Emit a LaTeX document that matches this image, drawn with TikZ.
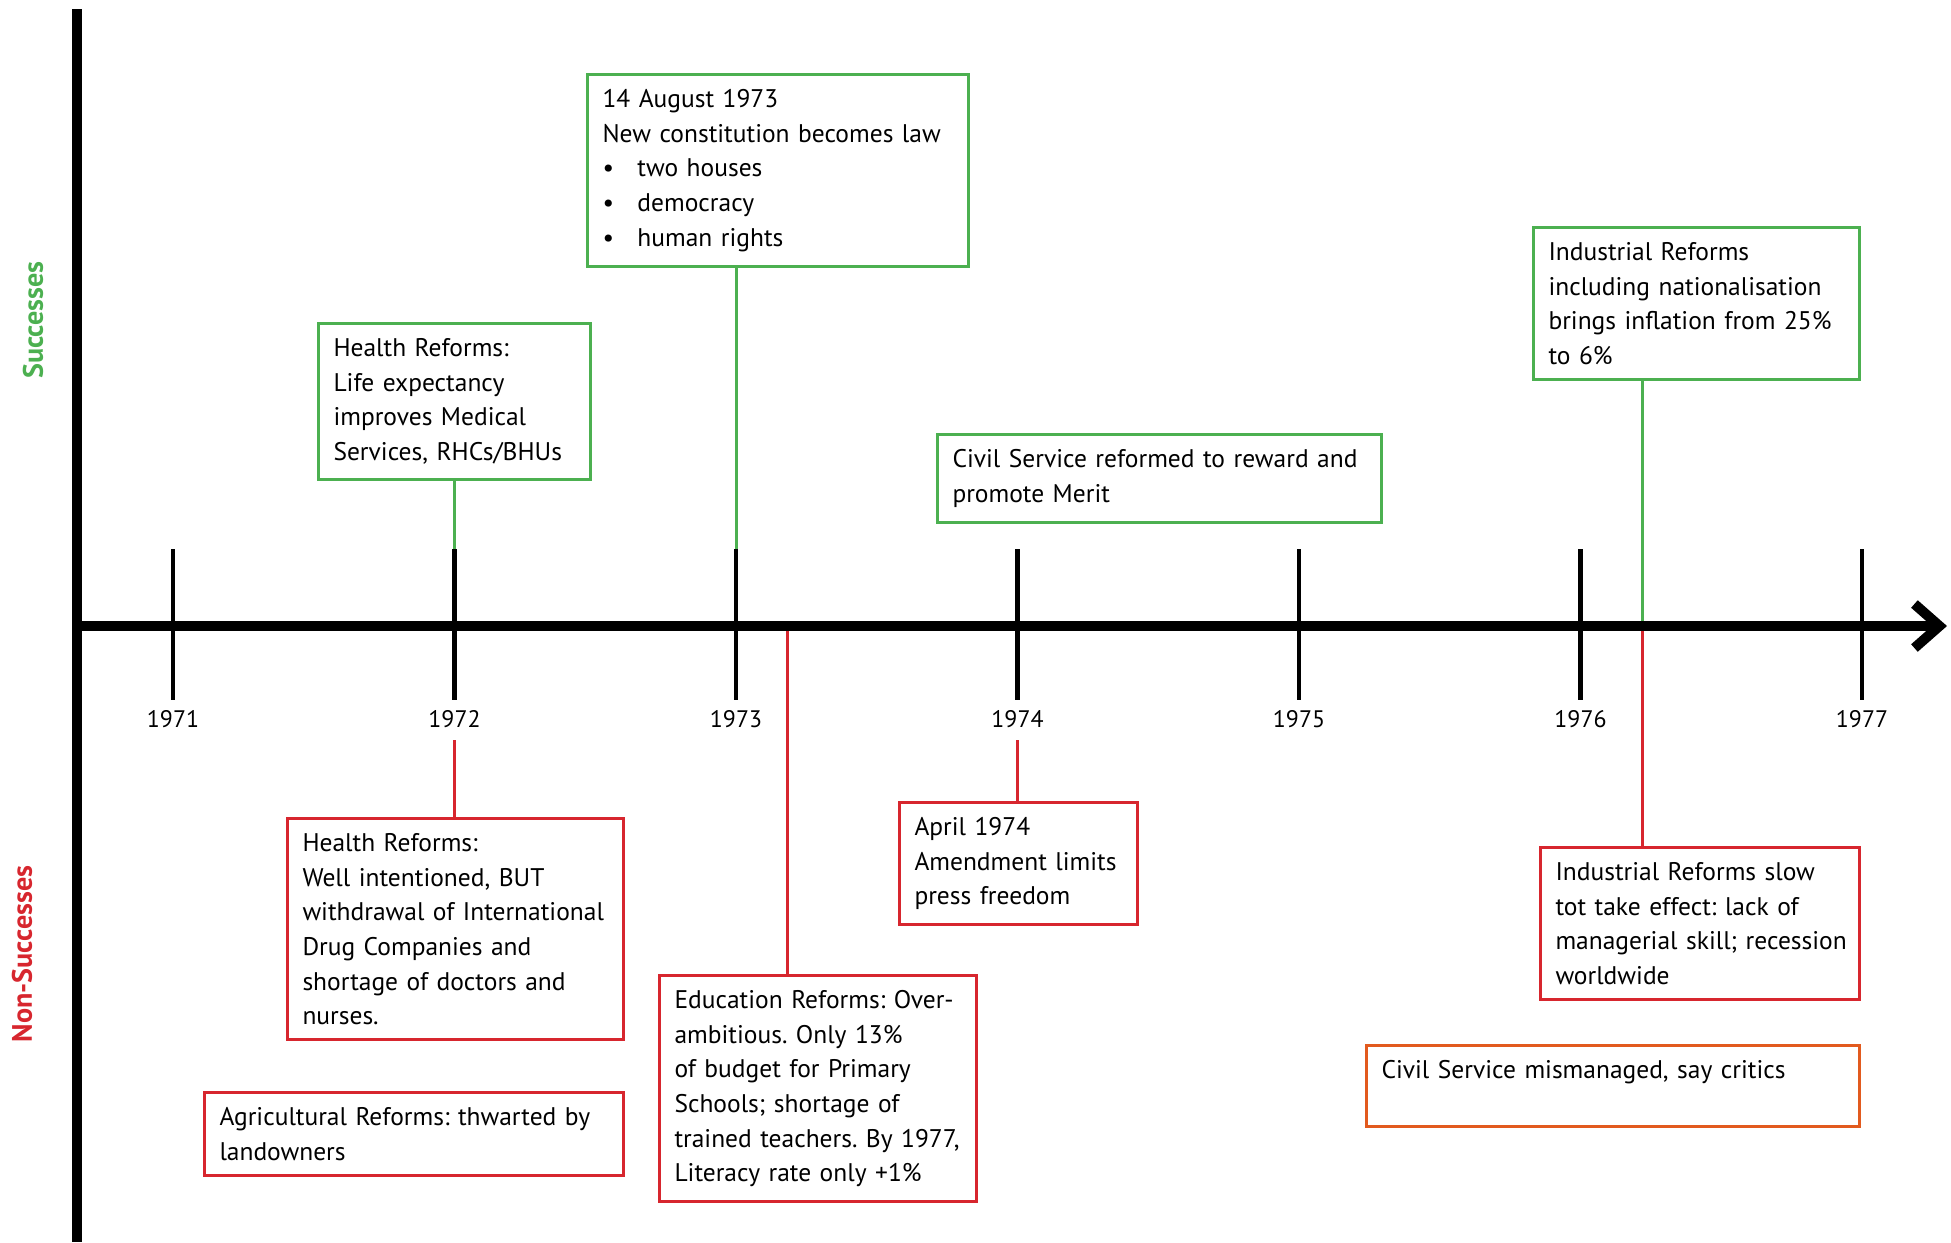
\documentclass[tikz,border=0pt]{standalone}
\usepackage{fontspec}
\setmainfont{PT Sans}
\usetikzlibrary{positioning, arrows.meta}
\definecolor{goodgreen}{RGB}{76,176,80}
\definecolor{badred}{RGB}{215,38,46}
\definecolor{critorange}{RGB}{226,90,30}
\newcommand*{\boxfont}{\fontsize{7.25pt}{9.85pt}\selectfont\frenchspacing}
\newcommand*{\yearfont}{\fontsize{6.8pt}{8pt}\selectfont}
\newcommand*{\itm}{\makebox[3.5mm][l]{\textbullet}}

\begin{document}
\begin{tikzpicture}
    [
        x=0.1mm, y=-0.1mm,
        box/.style={draw, line width=0.3mm, anchor=north west, align=left, inner sep=1.5mm, font=\boxfont},
        green_box/.style={box, draw=goodgreen},
        red_box/.style={box, draw=badred},
        orange_box/.style={box, draw=critorange},
        green_link/.style={line width=0.3mm, color=goodgreen},
        red_link/.style={line width=0.3mm, color=badred},
        year_tick/.style={line width=0.45mm},
        side_label/.style={rotate=90, font=\fontsize{8pt}{9pt}\selectfont\bfseries},
    ]
        \useasboundingbox (0,0) rectangle (1951,1242) ;
        \foreach \yr [count=\i from 0] in {1971,...,1977} {
            \coordinate (top\yr) at (173+281.5*\i,549) ;
            \coordinate (bot\yr) at (173+281.5*\i,700) ;
            \draw[year_tick] (top\yr) -- (bot\yr) ;
            \node[font=\yearfont] (lbl\yr) at (173+281.5*\i,719) {\yr} ;
        }
        \coordinate (edu_mark) at (787,626) ;
        \coordinate (ind_mark) at (1642,626) ;

        \node[side_label, text=goodgreen] (good_lbl) at (33,320) {Successes} ;
        \node[side_label, text=badred] (bad_lbl) at (22,954) {Non-Successes} ;

        \node[green_box, text width=24.2mm] (hlth_good) at (317,322) {Health Reforms:\\Life expectancy\\improves Medical\\Services, RHCs/BHUs} ;
        \node[green_box, text width=35.1mm] (const73) at (586,73) {14 August 1973\\New constitution becomes law\\\itm two houses\\\itm democracy\\\itm human rights} ;
        \node[green_box, text width=41.4mm] (civil_good) at (936,433) {Civil Service reformed to reward and\\promote Merit} ;
        \node[green_box, text width=29.6mm] (ind_good) at (1532,226) {Industrial Reforms\\including nationalisation\\brings inflation from 25\%\\to 6\%} ;

        \node[red_box, text width=30.6mm] (hlth_bad) at (286,817) {Health Reforms:\\Well intentioned, BUT\\withdrawal of International\\Drug Companies and\\shortage of doctors and\\nurses.} ;
        \node[red_box, text width=38.9mm] (agri_bad) at (203,1091) {Agricultural Reforms: thwarted by\\landowners} ;
        \node[red_box, text width=28.7mm] (edu_bad) at (658,974) {Education Reforms: Over-\\ambitious. Only 13\%\\of budget for Primary\\Schools; shortage of\\\mbox{trained teachers. By 1977,}\\Literacy rate only +1\%} ;
        \node[red_box, text width=20.8mm] (april74) at (898,801) {April 1974\\Amendment limits\\press freedom} ;
        \node[red_box, text width=28.9mm] (ind_bad) at (1539,846) {Industrial Reforms slow\\tot take effect: lack of\\\mbox{managerial skill; recession}\\worldwide} ;
        \node[orange_box, text width=46.3mm, text depth=3.3mm] (civil_bad) at (1365,1044) {Civil Service mismanaged, say critics} ;

        \draw[green_link] (hlth_good.south -| top1972) -- (top1972) ;
        \draw[green_link] (const73.south -| top1973) -- (top1973) ;
        \draw[green_link] (ind_good.south -| ind_mark) -- (ind_mark) ;
        \draw[red_link] (lbl1972.south) -- (hlth_bad.north -| lbl1972) ;
        \draw[red_link] (lbl1974.south) -- (april74.north -| lbl1974) ;
        \draw[red_link] (edu_mark) -- (edu_bad.north -| edu_mark) ;
        \draw[red_link] (ind_mark) -- (ind_bad.north -| ind_mark) ;

        \coordinate (axis_top) at (77,9) ;
        \coordinate (axis_bot) at (77,1242) ;
        \coordinate (axis_org) at (77,626) ;
        \coordinate (axis_end) at (1947,626) ;
        \draw[line width=1mm] (axis_top) -- (axis_bot) ;
        \draw[line width=1mm, -{Straight Barb[length=2.5mm, width=4.4mm, sharp]}] (axis_org) -- (axis_end) ;
    \end{tikzpicture}
\end{document}
